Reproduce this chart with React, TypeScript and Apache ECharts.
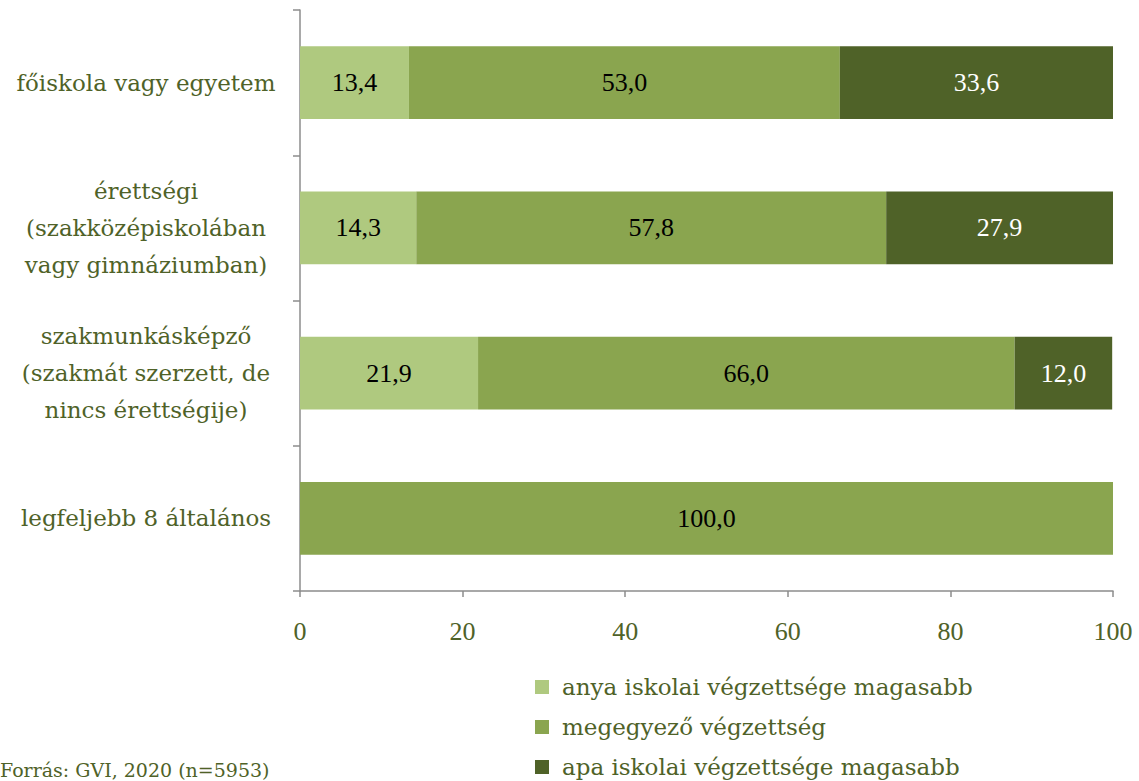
import React, { useEffect, useRef } from "react";
import * as echarts from "echarts";

const categories = [
  "főiskola vagy egyetem",
  "érettségi\n(szakközépiskolában\nvagy gimnáziumban)",
  "szakmunkásképző\n(szakmát szerzett, de\nnincs érettségije)",
  "legfeljebb 8 általános",
];
const seriesNames = [
  "anya iskolai végzettsége magasabb",
  "megegyező végzettség",
  "apa iskolai végzettsége magasabb",
];
const anyaValues = [13.4, 14.3, 21.9, null];
const megegyezoValues = [53.0, 57.8, 66.0, 100.0];
const apaValues = [33.6, 27.9, 12.0, null];
const xTicks = [0, 20, 40, 60, 80, 100];
const sourceText = "Forrás: GVI, 2020 (n=5953)";

const colors = ["#afc97f", "#8aa54f", "#4f6228"];
const textGreen = "#4f6228";
const serif = "'DejaVu Serif', serif";
const numFont = "'Liberation Serif', serif";

export default function App() {
  const ref = useRef<HTMLDivElement>(null);
  useEffect(() => {
    if (!ref.current) return;
    const chart = echarts.init(ref.current, null, { renderer: "svg" });
    const fmt = (p: any) =>
      p.value == null ? "" : Number(p.value).toFixed(1).replace(".", ",");
    const mk = (name: string, data: any[], i: number, labelColor: string) => ({
      name,
      type: "bar",
      stack: "total",
      data,
      barCategoryGap: "50%",
      itemStyle: { color: colors[i] },
      label: {
        show: true,
        position: "inside",
        formatter: fmt,
        color: labelColor,
        fontFamily: numFont,
        fontSize: 26,
      },
    });
    chart.setOption({
      animation: false,
      grid: { left: 300, right: 26, top: 10, bottom: 190 },
      xAxis: {
        type: "value",
        min: 0,
        max: 100,
        interval: 20,
        splitLine: { show: false },
        axisLine: { show: true, lineStyle: { color: "#8c8c8c", width: 1.5 } },
        axisTick: { show: true, length: 6, lineStyle: { color: "#8c8c8c", width: 1.5 } },
        axisLabel: {
          color: textGreen,
          fontFamily: numFont,
          fontSize: 26,
          margin: 27,
          formatter: (v: number) => (xTicks.includes(v) ? String(v) : ""),
        },
      },
      yAxis: {
        type: "category",
        inverse: true,
        data: categories,
        axisLine: { show: true, lineStyle: { color: "#8c8c8c", width: 1.5 } },
        axisTick: { show: true, length: 7, lineStyle: { color: "#8c8c8c", width: 1.5 } },
        axisLabel: {
          color: textGreen,
          fontFamily: serif,
          fontSize: 23,
          lineHeight: 37,
          align: "center",
          margin: 154,
        },
      },
      legend: {
        orient: "vertical",
        left: 535,
        top: 675,
        padding: 0,
        itemWidth: 14,
        itemHeight: 14,
        itemGap: 16,
        icon: "rect",
        data: seriesNames,
        textStyle: {
          color: textGreen,
          fontFamily: serif,
          fontSize: 23,
          lineHeight: 24,
          padding: [0, 0, 0, 8],
        },
      },
      graphic: [
        {
          type: "text",
          left: 0,
          top: 760,
          style: {
            text: sourceText,
            fill: textGreen,
            font: "19px 'DejaVu Serif', serif",
          },
        },
      ],
      series: [
        mk(seriesNames[0], anyaValues, 0, "#000"),
        mk(seriesNames[1], megegyezoValues, 1, "#000"),
        mk(seriesNames[2], apaValues, 2, "#fff"),
      ],
    });
    return () => chart.dispose();
  }, []);
  return <div ref={ref} style={{ width: 1139, height: 781, position: "absolute", left: 0, top: 0 }} />;
}
